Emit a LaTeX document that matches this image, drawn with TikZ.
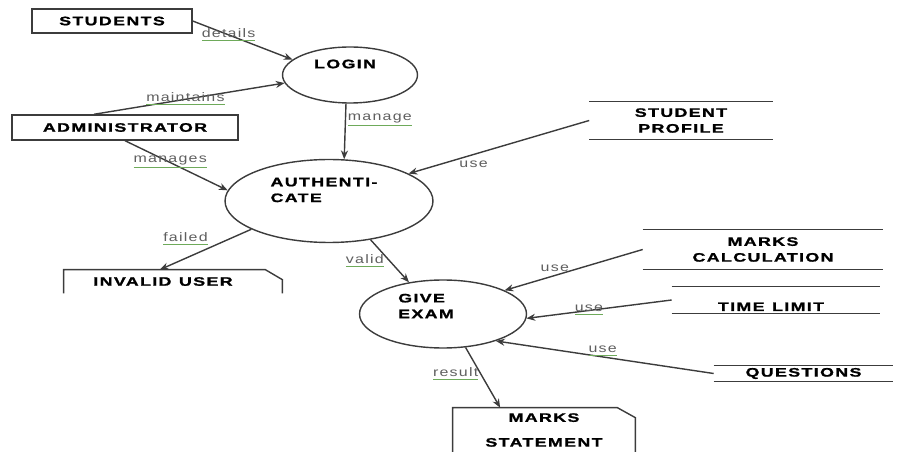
\documentclass[tikz,border=0pt]{standalone}
\usepackage{fontspec}
\usetikzlibrary{arrows.meta}
\usetikzlibrary{calc}
\usetikzlibrary{shapes.geometric}
\newfontfamily\boxfont{Liberation Sans}[FakeStretch=1.45,LetterSpace=11,BoldFeatures={FakeBold=1.3}]
\newfontfamily\lblfont{Liberation Sans}[FakeStretch=1.3,LetterSpace=10]
\definecolor{linie}{RGB}{60,60,60}
\definecolor{lblgrau}{RGB}{95,95,95}
\definecolor{ulgruen}{RGB}{110,170,90}
\newcommand{\ullbl}[1]{\textcolor{ulgruen}{\underline{\textcolor{lblgrau}{#1}}}}

\begin{document}
\begin{tikzpicture}[x=0.02cm,y=-0.02cm,
	box/.style={draw=linie,thick,rectangle,font=\boxfont\bfseries\fontsize{7}{9}\selectfont,inner sep=0pt},
	proc/.style={draw=linie,thick,ellipse,inner sep=0pt,font=\boxfont\bfseries\fontsize{7}{9}\selectfont},
	store/.style={rectangle,inner sep=0pt,align=center,font=\boxfont\bfseries\fontsize{7}{9}\selectfont,
		append after command={(\tikzlastnode.north west) edge[draw=linie,thick] (\tikzlastnode.north east)
		(\tikzlastnode.south west) edge[draw=linie,thick] (\tikzlastnode.south east)}},
	doc/.style={rectangle,inner sep=0pt,align=center,font=\boxfont\bfseries\fontsize{7}{9}\selectfont},
	fluss/.style={draw=linie,thick,-{Stealth[length=5pt,width=4pt]}},
	lbl/.style={font=\lblfont\fontsize{7}{8}\selectfont,text=lblgrau,inner sep=1pt}]
	\useasboundingbox (0,0) rectangle (912,452);
	% Quellen
	\node[box,minimum width=3.2cm,minimum height=0.48cm] (students) at (112,21) {STUDENTS\hspace{0.3cm}};
	\node[box,minimum width=4.52cm,minimum height=0.5cm] (admin) at (125,127.5) {ADMINISTRATOR\hspace{0.2cm}};
	% Prozesse
	\node[proc,minimum width=2.7cm,minimum height=1.12cm,label={[xshift=-0.1cm,yshift=0.22cm,font=\boxfont\bfseries\fontsize{7}{9}\selectfont]center:LOGIN}] (login) at (350,75) {};
	\node[proc,minimum width=4.16cm,minimum height=1.66cm,label={[xshift=-0.1cm,yshift=0.22cm,align=left,font=\boxfont\bfseries\fontsize{7}{9}\selectfont]center:AUTHENTI-\\CATE}] (auth) at (329,201) {};
	\node[proc,minimum width=3.34cm,minimum height=1.36cm,label={[xshift=-0.34cm,yshift=0.16cm,align=left,font=\boxfont\bfseries\fontsize{7}{9}\selectfont]center:GIVE\\EXAM}] (give) at (443,314) {};
	% Speicher
	\node[store,minimum width=3.66cm,minimum height=0.74cm] (profile) at (681,120.5) {STUDENT\\PROFILE\hspace{0.1cm}};
	\node[store,minimum width=4.8cm,minimum height=0.78cm] (calc) at (763,249.5) {MARKS\\CALCULATION\hspace{0.35cm}};
	\node[store,minimum width=4.16cm,minimum height=0.52cm,text height=0pt,text depth=0pt] (time) at (776,300) {\raisebox{-0.22cm}{TIME\hspace{0.15cm}LIMIT}\hspace{0.2cm}};
	\node[store,minimum width=3.58cm,minimum height=0.3cm] (questions) at (803.5,373.5) {QUESTIONS};
	% Ausgaben
	\node[doc,minimum width=4.36cm,minimum height=0.46cm] (invalid) at (173,281.5) {\raisebox{-0.08cm}{INVALID\hspace{0.15cm}USER}\hspace{0.4cm}};
	\node[doc,minimum width=3.64cm,minimum height=0.88cm] (stmt) at (544,430) {\raisebox{0.1cm}{MARKS}\\[0.08cm]STATEMENT};
	\draw[linie,thick] (invalid.south west) |- ($(invalid.north east)+(-0.34cm,0)$) -- ($(invalid.north east)+(0,-0.2cm)$) -- (invalid.south east);
	\draw[linie,thick] (stmt.south west) |- ($(stmt.north east)+(-0.36cm,0)$) -- ($(stmt.north east)+(0,-0.2cm)$) -- (stmt.south east);
	% Datenfluesse
	\draw[fluss] (students.east) -- node[lbl,pos=0.36] {\ullbl{details}} (login.165);
	\draw[fluss] (admin.157) -- node[lbl,pos=0.48] {\ullbl{maintains}} (login.187);
	\draw[fluss] (admin.south) -- node[lbl,pos=0.44] {\ullbl{manages}} (auth.174);
	\draw[fluss] (login.262) -- node[lbl,pos=0.3,right] {\ullbl{manage}} (auth.70);
	\draw[fluss] (profile.west) -- node[lbl,pos=0.64,below=2pt] {use} (auth.19);
	\draw[fluss] (auth.200) -- node[lbl,pos=0.45,above left] {\ullbl{failed}} (invalid.138);
	\draw[fluss] (auth.317) -- node[lbl,pos=0.5,left=2pt] {\ullbl{valid}} (give.137);
	\draw[fluss] (calc.west) -- node[lbl,pos=0.6,above,xshift=-0.1cm] {use} (give.21);
	\draw[fluss] (time.west) -- node[lbl,pos=0.57] {\ullbl{use}} (give.357);
	\draw[fluss] (questions.west) -- node[lbl,pos=0.51,above=-1pt] {\ullbl{use}} (give.333);
	\draw[fluss] (give.304) -- node[lbl,pos=0.44,left] {\ullbl{result}} (stmt.153);
\end{tikzpicture}
\end{document}
